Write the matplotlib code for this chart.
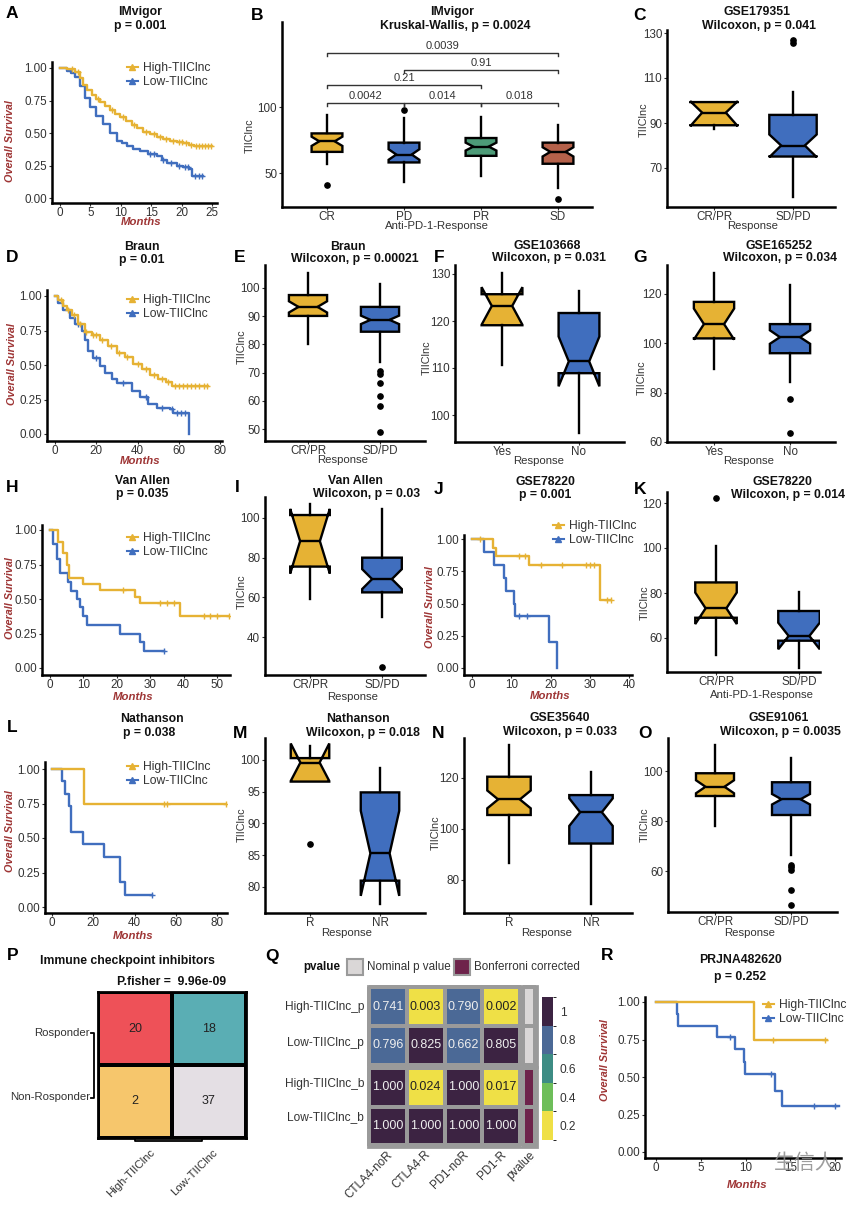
import numpy as np
import matplotlib
matplotlib.use('Agg')
import matplotlib.pyplot as plt
import matplotlib.cm as cm
from matplotlib.colors import ListedColormap, BoundaryNorm
from matplotlib.lines import Line2D
from matplotlib.patches import Rectangle

plt.rcParams['font.family'] = ['Liberation Sans', 'DejaVu Sans']

W, H = 864, 1205
GOLD = '#E6B234'
BLUE = '#406EBE'
GREEN = '#4D9B78'
BROWN = '#B5614A'
RED_LAB = '#9E3535'
TXT = '#333333'

# ---------------- KM data (time, survival, end of follow-up, censor times) ----------------
a_hi_t = [0, 1.1, 2.5, 3.3, 3.8, 4.5, 5.2, 5.9, 6.6, 7.4, 8.2, 9.0, 9.9, 10.8, 11.8, 12.7,
          13.7, 14.8, 15.9, 17.0, 18.1, 19.2, 20.3, 21.2, 22.0]
a_hi_s = [1.0, 0.99, 0.97, 0.92, 0.87, 0.83, 0.79, 0.765, 0.74, 0.71, 0.68, 0.65, 0.62, 0.59,
          0.56, 0.535, 0.51, 0.49, 0.47, 0.455, 0.44, 0.43, 0.42, 0.41, 0.40]
a_hi_end = 25.0
a_hi_cens = [2.0, 3.0, 6.2, 8.6, 10.4, 12.2, 14.2, 15.4, 16.4, 17.5, 18.6, 19.6, 20.1, 20.8,
             21.6, 22.4, 22.9, 23.4, 23.9, 24.4, 24.9]
a_lo_t = [0, 1.1, 1.8, 2.5, 3.3, 4.1, 4.9, 6.0, 7.1, 8.2, 9.3, 10.2, 11.0, 12.0, 13.2, 14.5,
          15.9, 16.8, 17.6, 19.2, 20.2, 21.2, 21.7]
a_lo_s = [1.0, 0.98, 0.96, 0.93, 0.86, 0.77, 0.70, 0.63, 0.57, 0.50, 0.44, 0.42, 0.40, 0.38,
          0.36, 0.34, 0.32, 0.29, 0.27, 0.25, 0.235, 0.22, 0.17]
a_lo_end = 23.5
a_lo_cens = [14.8, 15.5, 17.0, 18.2, 19.6, 20.6, 21.1, 22.2, 22.8, 23.3]

d_hi_t = [0, 1.6, 4, 6, 8, 11.3, 14.5, 17.8, 21.8, 25.8, 29.9, 33.9, 38, 42, 46, 50, 54, 56.5]
d_hi_s = [1, 0.97, 0.93, 0.90, 0.86, 0.80, 0.74, 0.72, 0.68, 0.64, 0.59, 0.56, 0.51, 0.47,
          0.43, 0.40, 0.38, 0.345]
d_hi_end = 74.0
d_hi_cens = [3, 6.5, 9, 12, 15, 18.5, 20, 23, 27, 31, 35, 40, 44, 48, 52, 55, 58, 60, 62, 64,
             66, 68, 70, 72, 73.5]
d_lo_t = [0, 1.6, 4, 7.3, 9.7, 12.9, 14.5, 16, 18.6, 21.8, 24.2, 27.5, 29.9, 37.2, 41.2, 45.2,
          49.3, 55.7, 57.4, 65]
d_lo_s = [1, 0.95, 0.90, 0.84, 0.80, 0.75, 0.68, 0.60, 0.55, 0.49, 0.44, 0.40, 0.37, 0.31,
          0.27, 0.22, 0.19, 0.18, 0.15, 0.0]
d_lo_end = 65.0
d_lo_cens = [11, 20, 33, 44, 52, 56.5, 59, 61, 63]

h_hi_t = [0, 2.5, 4, 5, 5.7, 10, 15, 25.5, 27, 39]
h_hi_s = [1.0, 0.915, 0.83, 0.75, 0.65, 0.61, 0.565, 0.515, 0.47, 0.375]
h_hi_end = 54.0
h_hi_cens = [22, 33, 35, 37, 46, 48, 50, 53.5]
h_lo_t = [0, 1, 2, 3, 5.5, 6.2, 8, 9, 10, 11, 21, 27, 28]
h_lo_s = [1.0, 0.90, 0.79, 0.685, 0.625, 0.56, 0.50, 0.44, 0.375, 0.31, 0.25, 0.185, 0.125]
h_lo_end = 34.0
h_lo_cens = [34]

j_hi_t = [0, 5.4, 6, 14.5, 32.5]
j_hi_s = [1.0, 0.93, 0.87, 0.80, 0.53]
j_hi_end = 35.5
j_hi_cens = [2, 12, 13.5, 17.5, 23, 29, 30, 31, 34.5, 35.5]
j_lo_t = [0, 3, 5.5, 8.1, 8.6, 10.6, 10.9, 19.6, 21.7]
j_lo_s = [1.0, 0.9, 0.8, 0.7, 0.6, 0.5, 0.4, 0.2, 0.0]
j_lo_end = 21.7
j_lo_cens = [12, 14]

l_hi_t = [0, 15.3]
l_hi_s = [1.0, 0.75]
l_hi_end = 84.8
l_hi_cens = [54.4, 55.7, 84.5]
l_lo_t = [0, 4.8, 6.5, 8, 9, 15, 25, 33, 35.5]
l_lo_s = [1.0, 0.91, 0.82, 0.73, 0.545, 0.455, 0.36, 0.18, 0.09]
l_lo_end = 48.5
l_lo_cens = [48.5]

r_hi_t = [0, 10.9]
r_hi_s = [1.0, 0.75]
r_hi_end = 19.1
r_hi_cens = [13.1, 18.9]
r_lo_t = [0, 2.35, 2.5, 6.8, 8.85, 9.8, 9.9, 13.3, 14.05]
r_lo_s = [1.0, 0.92, 0.84, 0.77, 0.69, 0.60, 0.52, 0.41, 0.31]
r_lo_end = 20.4
r_lo_cens = [8.3, 12.9, 17.6, 20.0]

# ---------------- boxplot data: [whislo, q1, cilo, med, cihi, q3, whishi] ----------------
b_groups = ['CR', 'PD', 'PR', 'SD']
b_box = [[57, 66, 70.5, 74, 77.5, 80, 94],
         [43, 58, 60, 64, 68, 73, 92],
         [48, 63, 67, 70, 73, 76.5, 92.5],
         [39, 57, 62.5, 66, 69.5, 73, 86]]
b_fliers = [[41], [98], [], [30]]
b_pairs = [(1, 4), (2, 4), (1, 3), (1, 2), (2, 3), (3, 4)]
b_pvals = ['0.0039', '0.91', '0.21', '0.0042', '0.014', '0.018']
b_bracket_y = [141, 128, 116.7, 103, 103, 103]

c_groups = ['CR/PR', 'SD/PD']
c_box = [[87.3, 89.0, 88.6, 94.6, 99.7, 99.3, 99.5],
         [57, 75.1, 74.8, 80, 84.9, 93.6, 104]]
c_fliers = [[], [125.5, 127]]

e_groups = ['CR/PR', 'SD/PD']
e_box = [[80.2, 90.1, 91.3, 93.3, 95.3, 97.5, 105.3],
         [73.8, 84.5, 87.2, 88.7, 90.2, 93.3, 101.4]]
e_fliers = [[], [48.8, 58, 61.8, 66.4, 69.5, 70.6]]

f_groups = ['Yes', 'No']
f_box = [[110.6, 119.1, 119.2, 123.2, 127.2, 125.7, 130.2],
         [96.2, 108.9, 106.1, 111.4, 116.7, 121.7, 126.4]]
f_fliers = [[], []]

g_groups = ['Yes', 'No']
g_box = [[89.4, 102.0, 101.5, 107.8, 114.1, 116.8, 128.6],
         [84.4, 96.0, 99.8, 102.5, 105.3, 107.8, 123.7]]
g_fliers = [[], [63.5, 77.4]]

i_groups = ['CR/PR', 'SD/PD']
i_box = [[59, 75.5, 72, 88.3, 104.6, 101.5, 106.9],
         [50, 62.5, 64.2, 69.2, 74.2, 80, 104.7]]
i_fliers = [[], [24.8]]

k_groups = ['CR/PR', 'SD/PD']
k_box = [[52.4, 69.0, 66.2, 73.2, 80.2, 84.7, 100.9],
         [46.8, 58.8, 55.0, 60.9, 66.8, 72.0, 80.6]]
k_fliers = [[122.4], []]

m_groups = ['R', 'NR']
m_box = [[96.6, 96.6, 96.7, 99.6, 102.6, 100.3, 102.2],
         [77.3, 81.0, 78.6, 85.3, 92.0, 94.9, 98.8]]
m_fliers = [[86.8], []]

n_groups = ['R', 'NR']
n_box = [[86.5, 105.5, 108.1, 111.6, 115.1, 120.5, 132.9],
         [70.4, 94.3, 101.2, 106.6, 112.0, 113.3, 122.5]]
n_fliers = [[], []]

o_groups = ['CR/PR', 'SD/PD']
o_box = [[78, 90, 91.1, 93.7, 96.3, 99.1, 110.4],
         [66.4, 82.4, 86.6, 88.7, 90.8, 95.5, 105.1]]
o_fliers = [[], [46.4, 52.4, 60.4, 61.5, 62.6]]

# ---------------- P / Q data ----------------
p_rows = ['Rosponder', 'Non-Rosponder']
p_cols = ['High-TIIClnc', 'Low-TIIClnc']
p_counts = [[20, 18], [2, 37]]
p_colors = ['#EE5158', '#5AAEB4', '#F6C66C', '#E4DFE4']

q_cols = ['CTLA4-noR', 'CTLA4-R', 'PD1-noR', 'PD1-R']
q_rows_p = ['High-TIIClnc_p', 'Low-TIIClnc_p']
q_rows_b = ['High-TIIClnc_b', 'Low-TIIClnc_b']
q_vals_p = [[0.741, 0.003, 0.790, 0.002], [0.796, 0.825, 0.662, 0.805]]
q_vals_b = [[1.000, 0.024, 1.000, 0.017], [1.000, 1.000, 1.000, 1.000]]
q_colors = ['#EFE046', '#6EBE5A', '#3D8C84', '#4B6996', '#3C2342']
q_ticks = [0.2, 0.4, 0.6, 0.8, 1.0]

fig = plt.figure(figsize=(W / 100, H / 100), dpi=100)


def add_ax(l, t, r, b):
    return fig.add_axes([l / W, 1 - b / H, (r - l) / W, (b - t) / H])


def lims(e0, e1, p0, v0, p1, v1):
    k = (v1 - v0) / (p1 - p0)
    return v0 + (e0 - p0) * k, v0 + (e1 - p0) * k


def style(ax):
    for s in ('top', 'right'):
        ax.spines[s].set_visible(False)
    for s in ('left', 'bottom'):
        ax.spines[s].set_linewidth(1.8)
        ax.spines[s].set_color('black')
    ax.tick_params(length=2.5, width=0.8, color=TXT, labelsize=8.4, labelcolor=TXT, pad=1)
    ax.tick_params(axis='x', pad=0.5)
    ax.patch.set_alpha(0)


def km(rect, xa, ya, high, low, xticks, leg):
    ax = add_ax(*rect)
    style(ax)
    ax.set_xlim(*lims(rect[0], rect[2], *xa))
    ax.set_ylim(*lims(rect[3], rect[1], *ya))
    for (t, s, end, cens), col in ((low, BLUE), (high, GOLD)):
        ax.step(np.append(t, end), np.append(s, s[-1]), where='post', color=col, lw=1.7)
        idx = np.searchsorted(t, cens, side='right') - 1
        ax.plot(cens, np.asarray(s)[idx], '+', color=col, ms=4, mew=1)
    ax.set_xticks(xticks)
    ax.set_yticks([0, 0.25, 0.5, 0.75, 1.0])
    ax.set_yticklabels(['0.00', '0.25', '0.50', '0.75', '1.00'])
    handles = [Line2D([], [], color=GOLD, lw=1.5, marker='^', ms=4.5),
               Line2D([], [], color=BLUE, lw=1.5, marker='^', ms=4.5)]
    lg = ax.legend(handles, ['High-TIIClnc', 'Low-TIIClnc'], loc='upper left',
                   bbox_to_anchor=(leg[0] / W, 1 - leg[1] / H), bbox_transform=fig.transFigure,
                   frameon=False, fontsize=8.7, handlelength=0.9, handletextpad=0.4,
                   borderpad=0, borderaxespad=0, labelspacing=0.2)
    for tx in lg.get_texts():
        tx.set_color(TXT)
    return ax


def boxes(rect, xa, ya, groups, rows, fliers, colors, yticks, width=0.53):
    ax = add_ax(*rect)
    style(ax)
    stats = [dict(whislo=r[0], q1=r[1], cilo=r[2], med=r[3], cihi=r[4], q3=r[5], whishi=r[6],
                  fliers=f) for r, f in zip(rows, fliers)]
    pos = np.arange(1, len(groups) + 1)
    res = ax.bxp(stats, positions=pos, widths=width, shownotches=True, showcaps=False,
                 patch_artist=True,
                 boxprops=dict(edgecolor='black', linewidth=1.7),
                 whiskerprops=dict(color='black', linewidth=1.7),
                 medianprops=dict(color='black', linewidth=1.7),
                 flierprops=dict(marker='o', markerfacecolor='black', markeredgecolor='black',
                                 markersize=3.8))
    for patch, col in zip(res['boxes'], colors):
        patch.set_facecolor(col)
    ax.set_xlim(*lims(rect[0], rect[2], *xa))
    ax.set_ylim(*lims(rect[3], rect[1], *ya))
    ax.set_xticks(pos)
    ax.set_xticklabels(groups)
    ax.set_yticks(yticks)
    return ax


# ---------- row 1 ----------
km((52, 62, 217, 203), (60, 0, 212, 25), (198, 0, 68, 1),
   (a_hi_t, a_hi_s, a_hi_end, a_hi_cens), (a_lo_t, a_lo_s, a_lo_end, a_lo_cens),
   [0, 5, 10, 15, 20, 25], (127, 62))

axb = boxes((282, 22, 592, 207), (327, 1, 558, 4), (173, 50, 107, 100), b_groups, b_box,
            b_fliers, [GOLD, BLUE, GREEN, BROWN], [50, 100], width=0.4)
for (i, j), lab, yb in zip(b_pairs, b_pvals, b_bracket_y):
    axb.plot([i, i, j, j], [yb - 2, yb, yb, yb - 2], color=TXT, lw=1)
    axb.text((i + j) / 2, yb + 1.5, lab, ha='center', va='bottom', fontsize=8, color=TXT)

boxes((667, 30, 835, 207), (714, 1, 793, 2), (168, 70, 33, 130), c_groups, c_box, c_fliers,
      [GOLD, BLUE], [70, 90, 110, 130], width=0.6)

# ---------- row 2 ----------
km((47, 290, 222, 441), (55, 0, 220, 80), (434, 0, 296, 1),
   (d_hi_t, d_hi_s, d_hi_end, d_hi_cens), (d_lo_t, d_lo_s, d_lo_end, d_lo_cens),
   [0, 20, 40, 60, 80], (127, 294))
boxes((265, 265, 425, 441), (308, 1, 380, 2), (429, 50, 288, 100), e_groups, e_box, e_fliers,
      [GOLD, BLUE], [50, 60, 70, 80, 90, 100])
boxes((455, 265, 624, 442), (502, 1, 579, 2), (415, 100, 274, 130), f_groups, f_box, f_fliers,
      [GOLD, BLUE], [100, 110, 120, 130])
boxes((667, 265, 835, 442), (714, 1, 790, 2), (442, 60, 294, 120), g_groups, g_box, g_fliers,
      [GOLD, BLUE], [60, 80, 100, 120])

# ---------- row 3 ----------
km((42, 525, 230, 675), (50, 0, 217, 50), (668, 0, 530, 1),
   (h_hi_t, h_hi_s, h_hi_end, h_hi_cens), (h_lo_t, h_lo_s, h_lo_end, h_lo_cens),
   [0, 10, 20, 30, 40, 50], (127, 532))
boxes((265, 497, 425, 675), (310, 1, 382, 2), (637, 40, 518, 100), i_groups, i_box, i_fliers,
      [GOLD, BLUE], [40, 60, 80, 100], width=0.55)
km((464, 535, 632, 675), (472, 0, 629, 40), (668, 0, 539, 1),
   (j_hi_t, j_hi_s, j_hi_end, j_hi_cens), (j_lo_t, j_lo_s, j_lo_end, j_lo_cens),
   [0, 10, 20, 30, 40], (553, 520))
boxes((667, 492, 820, 672), (716, 1, 799, 2), (638, 60, 503, 120), k_groups, k_box, k_fliers,
      [GOLD, BLUE], [60, 80, 100, 120], width=0.5)

# ---------- row 4 ----------
km((45, 762, 227, 913), (52, 0, 217, 80), (907, 0, 769, 1),
   (l_hi_t, l_hi_s, l_hi_end, l_hi_cens), (l_lo_t, l_lo_s, l_lo_end, l_lo_cens),
   [0, 20, 40, 60, 80], (127, 761))
boxes((265, 738, 425, 913), (310, 1, 380, 2), (887, 80, 760, 100), m_groups, m_box, m_fliers,
      [GOLD, BLUE], [80, 85, 90, 95, 100], width=0.55)
boxes((464, 738, 632, 913), (509, 1, 591, 2), (880, 80, 778, 120), n_groups, n_box, n_fliers,
      [GOLD, BLUE], [80, 100, 120])
boxes((668, 738, 837, 912), (715, 1, 791, 2), (871, 60, 771, 100), o_groups, o_box, o_fliers,
      [GOLD, BLUE], [60, 80, 100], width=0.5)

# ---------- P : contingency table ----------
axp = add_ax(98, 992, 246, 1138)
axp.pcolormesh(np.arange(4).reshape(2, 2), cmap=ListedColormap(p_colors),
               edgecolors='black', linewidth=1.5)
axp.set_xlim(0, 2)
axp.set_ylim(2, 0)
for i in range(2):
    for j in range(2):
        axp.text(j + 0.5, i + 0.5, str(p_counts[i][j]), ha='center', va='center',
                 fontsize=9, color='#222222')
axp.set_xticks([])
axp.set_yticks([])
for s in axp.spines.values():
    s.set_linewidth(2)

# ---------- Q : p-value heatmap ----------
hm_cmap = ListedColormap(q_colors)
hm_norm = BoundaryNorm([0, 0.3, 0.5, 0.6, 0.8, 1.01], 5)


def heat_block(rect, ann_rect, vals, ann_color):
    ax = add_ax(*rect)
    mesh = ax.pcolormesh(np.array(vals), cmap=hm_cmap, norm=hm_norm,
                         edgecolors='#9A9A9A', linewidth=1.5)
    mesh.set_clip_on(False)
    ax.set_xlim(0, 4)
    ax.set_ylim(2, 0)
    for i, row in enumerate(vals):
        for j, v in enumerate(row):
            ax.text(j + 0.5, i + 0.5, f'{v:.3f}', ha='center', va='center', fontsize=9,
                    color='#222222' if v < 0.3 else '#EEEEEE')
    ax.axis('off')
    an = add_ax(*ann_rect)
    m2 = an.pcolormesh(np.zeros((2, 1)), cmap=ListedColormap([ann_color]),
                       edgecolors='#9A9A9A', linewidth=1.5)
    m2.set_clip_on(False)
    an.set_ylim(2, 0)
    an.axis('off')


heat_block((369, 987, 520, 1065), (523, 987, 535, 1065), q_vals_p, '#DAD7D7')
heat_block((369, 1068, 520, 1145), (523, 1068, 535, 1145), q_vals_b, '#6E234B')

cax = add_ax(542, 997, 553, 1140)
cb = fig.colorbar(cm.ScalarMappable(norm=BoundaryNorm([0.1, 0.3, 0.5, 0.7, 0.9, 1.1], 5),
                                    cmap=hm_cmap), cax=cax, ticks=q_ticks)
cb.ax.set_yticklabels(['0.2', '0.4', '0.6', '0.8', '1'])
cb.outline.set_visible(False)
cax.tick_params(length=0, labelsize=8.6, pad=5, labelcolor=TXT)

# ---------- R ----------
km((645, 997, 841, 1158), (656, 0, 835, 20), (1152, 0, 1002, 1),
   (r_hi_t, r_hi_s, r_hi_end, r_hi_cens), (r_lo_t, r_lo_s, r_lo_end, r_lo_cens),
   [0, 5, 10, 15, 20], (763, 999))

# ---------------- overlay for titles and labels (pixel coords) ----------------
ov = fig.add_axes([0, 0, 1, 1])
ov.set_xlim(0, W)
ov.set_ylim(H, 0)
ov.axis('off')


def T(x, y, s, **kw):
    kw.setdefault('ha', 'center')
    kw.setdefault('va', 'center')
    kw.setdefault('color', '#111111')
    ov.text(x, y, s, **kw)


titles = [(140, 12, 'IMvigor'), (140, 26, 'p = 0.001'),
          (452, 12, 'IMvigor'), (455, 26, 'Kruskal-Wallis, p = 0.0024'),
          (757, 12, 'GSE179351'), (759, 26, 'Wilcoxon, p = 0.041'),
          (142, 247, 'Braun'), (142, 260, 'p = 0.01'),
          (348, 247, 'Braun'), (355, 259, 'Wilcoxon, p = 0.00021'),
          (547, 246, 'GSE103668'), (549, 258, 'Wilcoxon, p = 0.031'),
          (779, 246, 'GSE165252'), (780, 258, 'Wilcoxon, p = 0.034'),
          (142, 481, 'Van Allen'), (142, 494, 'p = 0.035'),
          (355, 481, 'Van Allen'), (367, 494, 'Wilcoxon, p = 0.03'),
          (545, 482, 'GSE78220'), (545, 495, 'p = 0.001'),
          (782, 482, 'GSE78220'), (788, 495, 'Wilcoxon, p = 0.014'),
          (152, 719, 'Nathanson'), (149, 733, 'p = 0.038'),
          (358, 719, 'Nathanson'), (363, 733, 'Wilcoxon, p = 0.018'),
          (560, 718, 'GSE35640'), (560, 732, 'Wilcoxon, p = 0.033'),
          (779, 718, 'GSE91061'), (780, 732, 'Wilcoxon, p = 0.0035'),
          (127, 961, 'Immune checkpoint inhibitors'), (172, 982, 'P.fisher =  9.96e-09'),
          (740, 960, 'PRJNA482620'), (740, 977, 'p = 0.252')]
for x, y, s in titles:
    T(x, y, s, fontsize=8.8, fontweight='bold')

letters = [(12, 14, 'A'), (257, 15, 'B'), (640, 15, 'C'), (12, 258, 'D'), (240, 258, 'E'),
           (439, 258, 'F'), (640, 258, 'G'), (12, 487, 'H'), (237, 487, 'I'), (439, 490, 'J'),
           (640, 490, 'K'), (12, 727, 'L'), (240, 733, 'M'), (438, 733, 'N'), (645, 733, 'O'),
           (13, 955, 'P'), (272, 957, 'Q'), (607, 955, 'R')]
for x, y, s in letters:
    T(x, y, s, fontsize=12.5, fontweight='bold', color='black')

km_ylab = [(10, 141), (12, 364), (10, 598), (430, 607), (10, 831), (605, 1060)]
for x, y in km_ylab:
    T(x, y, 'Overall Survival', rotation=90, fontsize=7.8, fontweight='bold',
      fontstyle='italic', color=RED_LAB)
km_xlab = [(141, 222), (140, 461), (133, 697), (550, 696), (133, 936), (747, 1185)]
for x, y in km_xlab:
    T(x, y, 'Months', fontsize=8.2, fontweight='bold', fontstyle='italic', color=RED_LAB)

box_ylab = [(250, 136), (644, 120), (242, 347), (427, 358), (642, 378), (242, 592),
            (645, 603), (242, 825), (436, 833), (645, 825)]
for x, y in box_ylab:
    T(x, y, 'TIIClnc', rotation=90, fontsize=7.8, color=TXT)
box_xlab = [(437, 226, 'Anti-PD-1-Response'), (753, 226, 'Response'), (343, 460, 'Response'),
            (539, 461, 'Response'), (749, 461, 'Response'), (353, 697, 'Response'),
            (762, 695, 'Anti-PD-1-Response'), (347, 933, 'Response'), (547, 933, 'Response'),
            (750, 933, 'Response')]
for x, y, s in box_xlab:
    T(x, y, s, fontsize=8.2, color=TXT)

# P labels and brackets
T(90, 1033, p_rows[0], ha='right', fontsize=8.2, color=TXT)
T(90, 1097, p_rows[1], ha='right', fontsize=8.2, color=TXT)
ov.plot([91, 94, 94, 91], [1033, 1033, 1098, 1098], color='black', lw=1.3)
ov.plot([135, 135, 202, 202], [1138, 1141, 1141, 1138], color='black', lw=1.3)
T(153, 1151, p_cols[0], ha='right', rotation=45, rotation_mode='anchor', fontsize=8.2,
  color=TXT)
T(216, 1151, p_cols[1], ha='right', rotation=45, rotation_mode='anchor', fontsize=8.2,
  color=TXT)

# Q labels, legend and frames
for y, s in zip([1007, 1043, 1084, 1117], q_rows_p + q_rows_b):
    T(364, y, s, ha='right', fontsize=8.6, color=TXT)
for x, s in zip([391, 429, 467, 505, 533], q_cols + ['pvalue']):
    T(x, 1153, s, ha='right', rotation=45, rotation_mode='anchor', fontsize=8.4, color=TXT)
for y0, y1 in ((985.5, 1066.5), (1066.5, 1146.5)):
    ov.add_patch(Rectangle((367.5, y0), 169.5, y1 - y0, fill=False, ec='#9A9A9A', lw=2))
T(303, 967, 'pvalue', ha='left', fontsize=8.4, fontweight='bold')
ov.add_patch(Rectangle((347, 959), 16, 16, fc='#DAD7D7', ec='#9A9A9A', lw=1.5))
T(367, 967, 'Nominal p value', ha='left', fontsize=8.4, color=TXT)
ov.add_patch(Rectangle((454, 959), 16, 16, fc='#6E234B', ec='#9A9A9A', lw=1.5))
T(474, 967, 'Bonferroni corrected', ha='left', fontsize=8.4, color=TXT)

# watermark
T(805, 1163, '生信人', fontsize=15, color='#8C8C8C', alpha=0.85,
  family=['Noto Sans CJK SC', 'DejaVu Sans'])

fig.savefig('out.png', dpi=100)
